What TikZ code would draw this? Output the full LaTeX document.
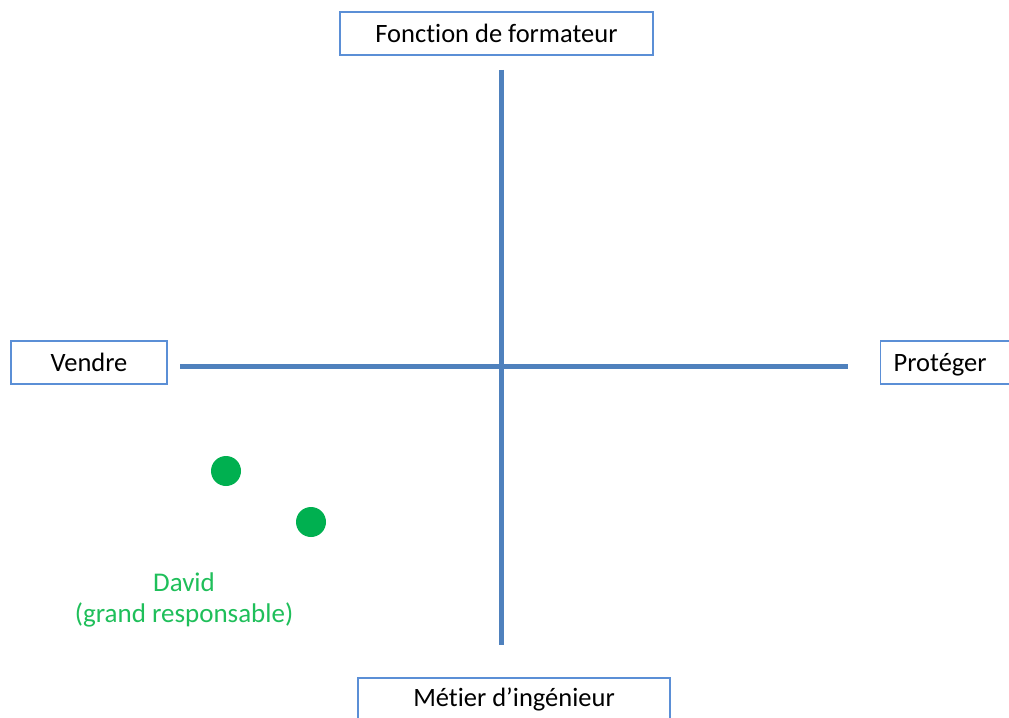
\documentclass[tikz,border=0pt]{standalone}
\usepackage{fontspec}
\setmainfont[Ligatures=NoCommon]{Carlito}
\definecolor{axisblue}{HTML}{4F81BD}
\definecolor{boxblue}{HTML}{5B8FD6}
\definecolor{dotgreen}{HTML}{00B050}
\definecolor{txtgreen}{HTML}{1FBF5A}
\begin{document}
\begin{tikzpicture}[x=1bp,y=-1bp,
  labelbox/.style={draw=boxblue,line width=1.3bp,fill=white,minimum height=43bp,inner sep=0pt,font=\fontsize{26.5bp}{30bp}\selectfont,text=black},
  axis/.style={draw=axisblue,line width=5bp},
  dot/.style={circle,fill=dotgreen,minimum size=30bp,inner sep=0pt},
  greentxt/.style={text=txtgreen,font=\fontsize{27bp}{31bp}\selectfont,align=center}]
\useasboundingbox (0,0) rectangle (1009,718);
\clip (0,0) rectangle (1009,718);
\fill[white] (0,0) rectangle (1009,718);
\coordinate (vt) at (501,70);
\coordinate (vb) at (501,645);
\coordinate (hl) at (180,366);
\coordinate (hr) at (848,366);
\draw[axis] (vt) -- (vb);
\draw[axis] (hl) -- (hr);
\node[labelbox,minimum width=313bp] (top) at (496.5,33.5) {Fonction de formateur};
\node[labelbox,minimum width=156bp] (left) at (89,362.5) {Vendre};
\node[labelbox,anchor=west,text width=124bp,align=left,text height=17.5bp,text depth=0bp,inner xsep=13bp] (right) at (880,362.5) {Protéger};
\node[labelbox,minimum width=312bp] (bottom) at (514,699.5) {Métier d’ingénieur};
\node[dot] (d1) at (226,471) {};
\node[dot] (d2) at (311,522) {};
\node[greentxt] (david) at (184,600) {David\\(grand responsable)};
\end{tikzpicture}
\end{document}
